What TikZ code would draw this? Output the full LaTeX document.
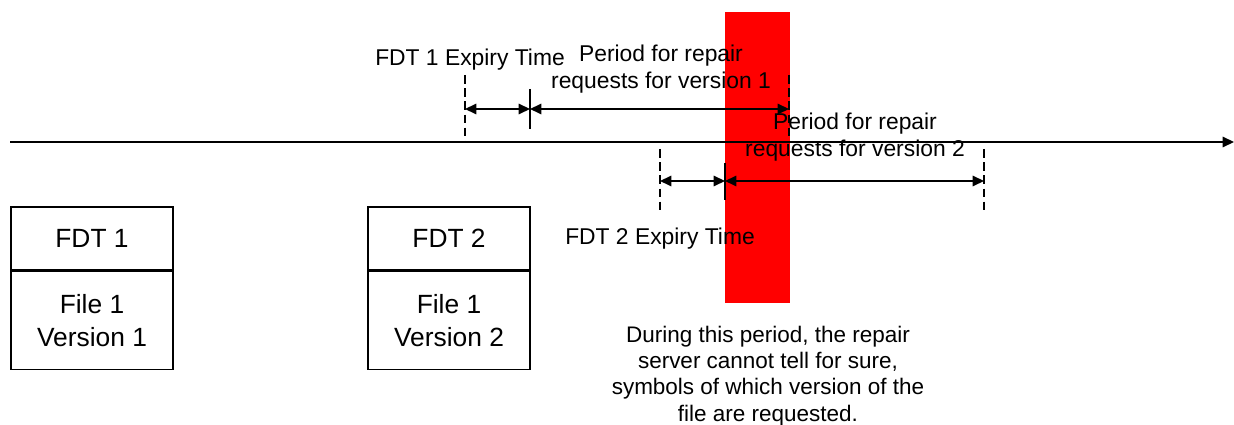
\documentclass[tikz,border=0pt]{standalone}
\usepackage{fontspec}
\setmainfont{Liberation Sans}
\usetikzlibrary{arrows.meta, positioning}

\begin{document}
\begin{tikzpicture}[x=0.02cm, y=-0.02cm, >={Triangle[length=6.5pt, width=6pt]}, line width=0.8pt,
    lbl/.style={font=\fontsize{13}{15.8}\selectfont, align=center, inner sep=0pt},
    boxtop/.style={draw, minimum width=3.24cm, minimum height=1.26cm, inner sep=0pt, font=\fontsize{15}{18}\selectfont},
    boxbody/.style={draw, minimum width=3.24cm, minimum height=1.96cm, inner sep=0pt, align=center, font=\fontsize{15}{18.6}\selectfont},
    expiry/.style={dashed, dash pattern=on 5pt off 2.5pt},
    period/.style={<->}]
    \useasboundingbox (0,0) rectangle (1234,425);

    % uncertain period
    \fill[red] (725,12) rectangle (790,303);

    % time axis
    \coordinate (t0) at (10,142);
    \coordinate (t1) at (1234,142);
    \draw[->] (t0) -- (t1);

    % version 1
    \coordinate (e1a) at (465,75);
    \coordinate (e1b) at (465,142);
    \coordinate (r1a) at (530,89);
    \coordinate (r1b) at (530,129);
    \coordinate (p1a) at (789,75);
    \coordinate (p1b) at (789,142);
    \draw[expiry] (e1a) -- (e1b);
    \draw (r1a) -- (r1b);
    \draw[expiry] (p1a) -- (p1b);
    \draw[period] (465,109) -- (530,109);
    \draw[period] (530,109) -- (789,109);

    % version 2
    \coordinate (e2a) at (660,149);
    \coordinate (e2b) at (660,213);
    \coordinate (r2a) at (725,163);
    \coordinate (r2b) at (725,200);
    \coordinate (p2a) at (984,149);
    \coordinate (p2b) at (984,213);
    \draw[expiry] (e2a) -- (e2b);
    \draw (r2a) -- (r2b);
    \draw[expiry] (p2a) -- (p2b);
    \draw[period] (660,181) -- (725,181);
    \draw[period] (725,181) -- (984,181);

    \node[lbl] (exp1) at (470,60) {FDT 1 Expiry Time};
    \node[lbl] (per1) at (661,69) {Period for repair\\requests for version 1};
    \node[lbl] (per2) at (855,137) {Period for repair\\requests for version 2};
    \node[lbl] (exp2) at (660,239) {FDT 2 Expiry Time};

    % FDT + file blocks
    \node[boxtop] (fdt1) at (92,238.5) {FDT 1};
    \node[boxbody, below=0pt of fdt1] (file1) {File 1\\Version 1};
    \node[boxtop] (fdt2) at (449,238.5) {FDT 2};
    \node[boxbody, below=0pt of fdt2] (file2) {File 1\\Version 2};

    \node[align=center, font=\fontsize{12.8}{15}\selectfont, inner sep=0pt] (note) at (768,376)
        {During this period, the repair\\server cannot tell for sure,\\symbols of which version of the\\file are requested.};
\end{tikzpicture}
\end{document}
